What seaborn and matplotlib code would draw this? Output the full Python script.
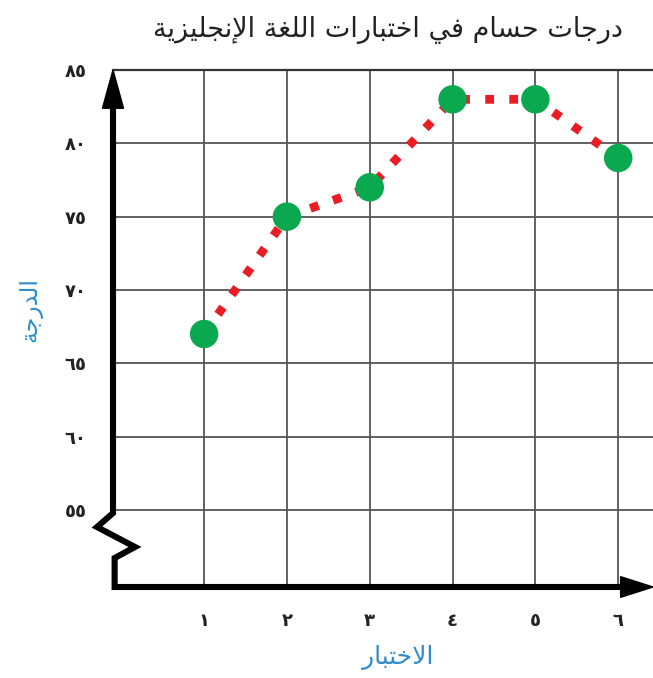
import matplotlib
matplotlib.use("Agg")
import matplotlib.pyplot as plt
import seaborn as sns
from matplotlib.patches import Polygon

# data
tests = [1, 2, 3, 4, 5, 6]
scores = [67, 75, 77, 83, 83, 79]

x_tick_labels = ['١', '٢', '٣', '٤', '٥', '٦']
y_ticks = [55, 60, 65, 70, 75, 80, 85]
y_tick_labels = ['٥٥', '٦٠', '٦٥', '٧٠', '٧٥', '٨٠', '٨٥']

title_text = 'درجات حسام في اختبارات اللغة الإنجليزية'
x_label = 'الاختبار'
y_label = 'الدرجة'

# contextual forms: isolated, final, initial, medial
FORMS = {
    'ا': ('\uFE8D', '\uFE8E', None, None),
    'إ': ('\uFE87', '\uFE88', None, None),
    'ب': ('\uFE8F', '\uFE90', '\uFE91', '\uFE92'),
    'ة': ('\uFE93', '\uFE94', None, None),
    'ت': ('\uFE95', '\uFE96', '\uFE97', '\uFE98'),
    'ج': ('\uFE9D', '\uFE9E', '\uFE9F', '\uFEA0'),
    'ح': ('\uFEA1', '\uFEA2', '\uFEA3', '\uFEA4'),
    'خ': ('\uFEA5', '\uFEA6', '\uFEA7', '\uFEA8'),
    'د': ('\uFEA9', '\uFEAA', None, None),
    'ر': ('\uFEAD', '\uFEAE', None, None),
    'ز': ('\uFEAF', '\uFEB0', None, None),
    'س': ('\uFEB1', '\uFEB2', '\uFEB3', '\uFEB4'),
    'غ': ('\uFECD', '\uFECE', '\uFECF', '\uFED0'),
    'ف': ('\uFED1', '\uFED2', '\uFED3', '\uFED4'),
    'ل': ('\uFEDD', '\uFEDE', '\uFEDF', '\uFEE0'),
    'م': ('\uFEE1', '\uFEE2', '\uFEE3', '\uFEE4'),
    'ن': ('\uFEE5', '\uFEE6', '\uFEE7', '\uFEE8'),
    'ي': ('\uFEF1', '\uFEF2', '\uFEF3', '\uFEF4'),
    'لا': ('\uFEFB', '\uFEFC', None, None),
    'لإ': ('\uFEF9', '\uFEFA', None, None),
}


def shape_arabic(text):
    # matplotlib has no arabic shaping, so pick the joined forms by hand
    tokens = []
    i = 0
    while i < len(text):
        if text[i] == 'ل' and i + 1 < len(text) and text[i + 1] in 'اإ':
            tokens.append(text[i:i + 2])
            i += 2
        else:
            tokens.append(text[i])
            i += 1
    out = []
    for k, tok in enumerate(tokens):
        forms = FORMS.get(tok)
        if forms is None:
            out.append(tok)
            continue
        prev = tokens[k - 1] if k > 0 else None
        nxt = tokens[k + 1] if k + 1 < len(tokens) else None
        join_prev = prev in FORMS and FORMS[prev][2] is not None
        join_next = forms[2] is not None and nxt in FORMS
        if join_prev and join_next:
            out.append(forms[3])
        elif join_prev:
            out.append(forms[1])
        elif join_next:
            out.append(forms[2])
        else:
            out.append(forms[0])
    return ''.join(reversed(out))


sns.set_style('white')
plt.rcParams['font.family'] = ['DejaVu Sans']

GREEN = '#0aa84f'
RED = '#ec1c24'
BLUE = '#2f8dcc'
GRID = '#555555'

fig = plt.figure(figsize=(6.53, 6.78), dpi=100)
ax = fig.add_axes([113 / 653, 91 / 678, 540 / 653, 517 / 678])

sns.lineplot(x=tests, y=scores, ax=ax, color=RED, linewidth=6.3,
             linestyle=(0, (1.0, 1.75)), zorder=3)
sns.scatterplot(x=tests, y=scores, ax=ax, color=GREEN, s=420,
                edgecolor='none', zorder=4)

ax.set_xlim(-0.1, 6.42)
ax.set_ylim(49.75, 85)
ax.set_xticks(tests)
ax.set_xticklabels(x_tick_labels)
ax.set_yticks(y_ticks)
ax.set_yticklabels(y_tick_labels)
ax.tick_params(axis='both', length=0, labelsize=13, colors='#222222')
ax.tick_params(axis='y', pad=19)
ax.tick_params(axis='x', pad=18)
for lbl in ax.get_xticklabels() + ax.get_yticklabels():
    lbl.set_fontweight('bold')

ax.grid(True, color=GRID, linewidth=1.3)
ax.set_axisbelow(True)
for side in ['left', 'right', 'bottom']:
    ax.spines[side].set_visible(False)
ax.spines['top'].set_color('#333333')
ax.spines['top'].set_linewidth(1.6)

# broken y axis with zigzag, plus arrowheads
axis_x = [0, 0, -0.0296, 0.0407, 0.003, 0.003, 0.944]
axis_y = [0.93, 0.143, 0.116, 0.0774, 0.056, 0.0, 0.0]
ax.plot(axis_x, axis_y, transform=ax.transAxes, color='black',
        linewidth=4.4, solid_joinstyle='miter', clip_on=False, zorder=5)
ax.add_patch(Polygon([[0, 1.0], [-0.0195, 0.926], [0.0195, 0.926]],
                     closed=True, transform=ax.transAxes, color='black',
                     clip_on=False, zorder=6))
ax.add_patch(Polygon([[1.0, 0.0], [0.94, 0.02], [0.94, -0.02]],
                     closed=True, transform=ax.transAxes, color='black',
                     clip_on=False, zorder=6))

ax.set_xlabel(shape_arabic(x_label), fontsize=18, color=BLUE, va='center')
ax.set_ylabel(shape_arabic(y_label), fontsize=17, color=BLUE, va='center')
ax.xaxis.set_label_coords((398 - 113) / 540, -(657 - 587) / 517)
ax.yaxis.set_label_coords(-(113 - 30) / 540, (587 - 310) / 517)

fig.text(388 / 653, 1 - 30 / 678, shape_arabic(title_text), fontsize=19.5,
         color='#222222', ha='center', va='center')

fig.savefig('out.png', dpi=100)
